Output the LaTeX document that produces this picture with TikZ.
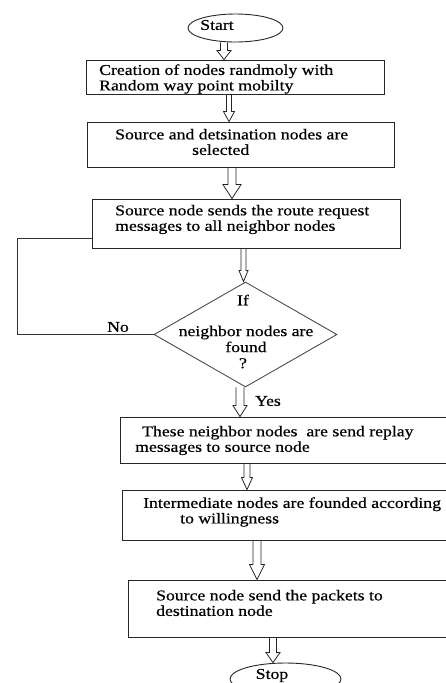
\documentclass[tikz,border=0pt]{standalone}
\usepackage{fontspec}
\setmainfont[FakeStretch=1.18,FakeBold=0.5]{Liberation Serif}
\usetikzlibrary{shapes.geometric,calc}
\tikzset{
  box/.style={draw=black!85, line width=0.9pt, inner sep=0pt},
  term/.style={draw=black!85, line width=0.9pt, ellipse, inner sep=0pt},
  dec/.style={draw=black!70, line width=0.9pt, diamond, inner sep=0pt},
  txt/.style={inner sep=0pt, align=left, font=\fontsize{15}{15.5}\selectfont, anchor=west},
  ctxt/.style={inner sep=0pt, align=center, font=\fontsize{15}{16}\selectfont},
  conn/.style={draw=black!80, line width=0.9pt},
  arr/.style={draw=black!85, line width=0.8pt, line join=miter},
}
\newcommand\harrow[6]{%
  \draw[arr] let \p1=(#2), \p2=(#3) in
    ({(#1-#4)*1pt}, \y1) -- ({(#1-#4)*1pt}, {\y2+#6pt}) -- ({(#1-#5)*1pt}, {\y2+#6pt})
    -- ({#1*1pt}, \y2) -- ({(#1+#5)*1pt}, {\y2+#6pt}) -- ({(#1+#4)*1pt}, {\y2+#6pt})
    -- ({(#1+#4)*1pt}, \y1);
}
\begin{document}
\begin{tikzpicture}[x=1pt,y=-1pt]
\useasboundingbox (0,0) rectangle (446,683);
\clip (0,0) rectangle (446,683);

% terminals
\node[term, minimum width=95pt, minimum height=28pt] (start) at (235.5,28) {};
\node[ctxt] (starttxt) at (217,25) {Start};
\node[term, minimum width=111pt, minimum height=32pt] (stop) at (285.5,679) {};
\node[ctxt] (stoptxt) at (272,675.5) {Stop};

% process boxes
\node[box, minimum width=298pt, minimum height=34pt] (b1) at (235,77) {};
\node[txt] (t1) at (99,79) {Creation of nodes randmoly with\\Random way point mobilty};

\node[box, minimum width=307pt, minimum height=45pt] (b2) at (240.5,144.5) {};
\node[txt] (t2) at (115,142) {Source and detsination nodes are\\\hspace*{77pt}selected};

\node[box, minimum width=308pt, minimum height=49pt] (b3) at (246,223.5) {};
\node[txt] (t3) at (115,219.5) {Source node sends the route request\\messages to all neighbor nodes};

\node[dec, minimum width=183pt, minimum height=105pt] (dia) at (245.5,334.5) {};
\node[ctxt] (dif) at (243,300) {If};
\node[ctxt] (dtxt) at (246,347) {neighbor nodes are\\found\hspace*{26pt}\\?\hspace*{6pt}};

\node[box, minimum width=350pt, minimum height=46pt] (b4) at (295,440) {};
\node[txt] (t4) at (135,440.5) {\hspace*{7pt}These neighbor nodes~ are send replay\\messages to source node};

\node[box, minimum width=348pt, minimum height=50pt] (b5) at (296,515) {};
\node[txt] (t5) at (143,512) {Intermediate nodes are founded according\\\hspace*{37pt}to willingness};

\node[box, minimum width=342pt, minimum height=57pt] (b6) at (299,608.5) {};
\node[txt] (t6) at (156,603) {Source node send the packets to\\destination node};

% hollow arrows
\harrow{224}{start.south}{b1.north}{3.5}{7}{9}
\harrow{229}{b1.south}{b2.north}{2.5}{5.5}{10}
\harrow{232}{b2.south}{b3.north}{4}{9}{14}
\harrow{243.5}{b3.south}{dia.north}{2.5}{4.5}{11}
\harrow{240}{dia.south}{b4.north}{4}{7}{11}
\harrow{247}{b4.south}{b5.north}{3}{5.5}{12}
\harrow{257}{b5.south}{b6.north}{4}{7.5}{15}
\harrow{273}{b6.south}{stop.north}{3.5}{7}{10}

% No loop
\coordinate (lp) at (17,238);
\draw[conn] (dia.west) -| (lp) -- (b3.west |- lp);
\node[ctxt] (no) at (118,327) {No};
\node[ctxt] (yes) at (268,401) {Yes};
\end{tikzpicture}
\end{document}
